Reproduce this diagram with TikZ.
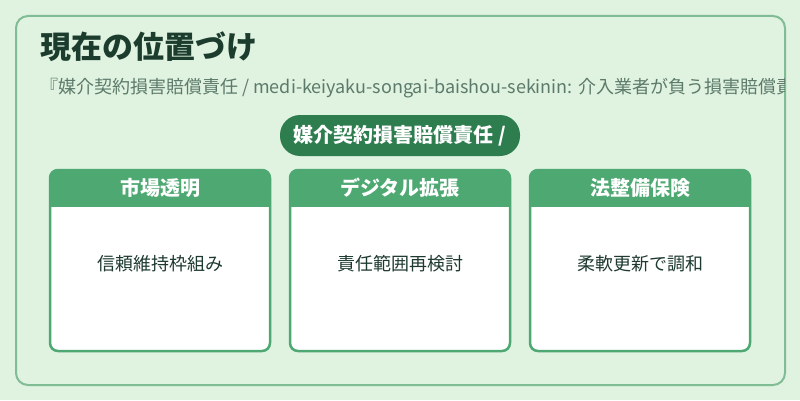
\documentclass[tikz,border=0pt]{standalone}
\usepackage{fontspec}
\setmainfont{Noto Sans CJK JP}
\usepackage{tikz}
\usetikzlibrary{positioning}
\definecolor{bgcol}{HTML}{E0F2E0}
\definecolor{framecol}{HTML}{80BC94}
\definecolor{titlecol}{HTML}{1C3D2E}
\definecolor{subcol}{HTML}{5C7A6B}
\definecolor{pillcol}{HTML}{2E7D4F}
\definecolor{headcol}{HTML}{4DA872}
\definecolor{bodycol}{HTML}{1E3A30}
\tikzstyle{outerbox} = [draw=framecol, line width=2pt, rounded corners=12pt]
\tikzstyle{titletext} = [anchor=west, inner sep=0pt, text=titlecol, font=\bfseries\fontsize{31}{36}\selectfont]
\tikzstyle{subtext} = [anchor=west, inner sep=0pt, text=subcol, font=\fontsize{18}{22}\selectfont]
\tikzstyle{pill} = [rectangle, rounded corners=20pt, fill=pillcol, text=white, minimum width=240pt, minimum height=41pt, inner sep=0pt, font=\bfseries\fontsize{20}{24}\selectfont]
\tikzstyle{cardbox} = [rectangle, fill=white, rounded corners=8pt, minimum width=220pt, minimum height=181pt, inner sep=0pt, outer sep=0pt]
\tikzstyle{cardline} = [draw=headcol, line width=2.5pt, rounded corners=8pt]
\tikzstyle{headtext} = [text=white, inner sep=0pt, font=\bfseries\fontsize{20}{24}\selectfont]
\tikzstyle{bodytext} = [text=bodycol, inner sep=0pt, font=\fontsize{18}{22}\selectfont]
\begin{document}
\begin{tikzpicture}[x=1pt, y=1pt]
  \fill[bgcol] (0,0) rectangle (800,400);
  \useasboundingbox (0,0) rectangle (800,400);
  \draw[outerbox] (16,15) rectangle (785,384);
  \node[titletext] (title) at (40,353) {現在の位置づけ};
  \begin{scope}
    \clip (17,16) rectangle (784,383);
    \node[subtext] (sub) at (40,312) {『媒介契約損害賠償責任 / medi-keiyaku-songai-baishou-sekinin: 介入業者が負う損害賠償責任』};
  \end{scope}
  \node[pill] (main) at (400,264.5) {媒介契約損害賠償責任 /};
  \foreach \i/\x/\hd/\bd in {1/160/市場透明/信頼維持枠組み, 2/400/デジタル拡張/責任範囲再検討, 3/640/法整備保険/柔軟更新で調和}{
    \node[cardbox] (card\i) at (\x,139.5) {};
    \begin{scope}
      \clip[rounded corners=8pt] (card\i.south west) rectangle (card\i.north east);
      \fill[headcol] (card\i.north west) rectangle ([yshift=-37pt]card\i.north east);
    \end{scope}
    \draw[cardline] (card\i.south west) rectangle (card\i.north east);
    \node[headtext] (head\i) at ([yshift=-18pt]card\i.north) {\hd};
    \node[bodytext] (body\i) at ([yshift=-3pt]card\i.center) {\bd};
  }
\end{tikzpicture}
\end{document}
